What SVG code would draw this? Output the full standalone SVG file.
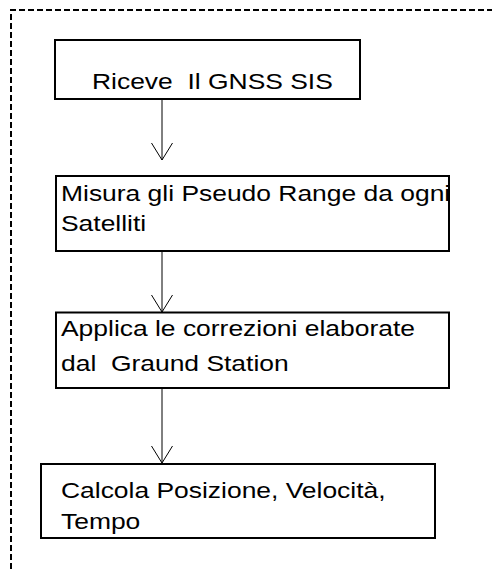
<svg xmlns="http://www.w3.org/2000/svg" width="492" height="569" viewBox="0 0 492 569">
  <style>
    .box { fill: #ffffff; stroke: #000000; stroke-width: 2; }
    .lbl { font-family: "Liberation Sans", Arial, sans-serif; font-size: 21.5px; fill: #000000; white-space: pre; }
    .edge { fill: none; stroke: #000000; stroke-width: 1; }
    .frame { fill: none; stroke: #000000; stroke-width: 2; stroke-dasharray: 6 3; }
  </style>
  <defs>
    <marker id="open-arrow" markerUnits="userSpaceOnUse" markerWidth="20" markerHeight="24" refX="0" refY="0" orient="auto" overflow="visible">
      <path d="M -17,-10.5 L 0,0 L -17,10.5" fill="none" stroke="#000000" stroke-width="1"/>
    </marker>
  </defs>

  <rect width="492" height="569" fill="#ffffff"/>

  <!-- dashed enclosing frame (open to the right and bottom) -->
  <path class="frame" d="M 11,569 L 11,10 L 492,10"/>

  <!-- connectors -->
  <g id="connectors">
    <line class="edge" x1="162" y1="99" x2="162" y2="160" marker-end="url(#open-arrow)"/>
    <line class="edge" x1="162" y1="251" x2="162" y2="312" marker-end="url(#open-arrow)"/>
    <line class="edge" x1="162" y1="388" x2="162" y2="463" marker-end="url(#open-arrow)"/>
  </g>

  <g id="node-riceve">
    <rect class="box" x="55" y="40" width="305" height="59"/>
    <text class="lbl" xml:space="preserve" transform="translate(92,89) scale(1.23,1)">Riceve  Il GNSS SIS</text>
  </g>

  <g id="node-misura">
    <rect class="box" x="56" y="176" width="393" height="75"/>
    <text class="lbl" xml:space="preserve" transform="translate(61,201) scale(1.23,1)">Misura gli Pseudo Range da ogni</text>
    <text class="lbl" xml:space="preserve" transform="translate(61,231) scale(1.23,1)">Satelliti</text>
  </g>

  <g id="node-applica">
    <rect class="box" x="56" y="312.5" width="393" height="75.5"/>
    <text class="lbl" xml:space="preserve" transform="translate(61,336) scale(1.23,1)">Applica le correzioni elaborate</text>
    <text class="lbl" xml:space="preserve" transform="translate(61,371) scale(1.23,1)">dal  Graund Station</text>
  </g>

  <g id="node-calcola">
    <rect class="box" x="41" y="464" width="394" height="74"/>
    <text class="lbl" xml:space="preserve" transform="translate(61,498) scale(1.23,1)">Calcola Posizione, Velocità,</text>
    <text class="lbl" xml:space="preserve" transform="translate(61,529) scale(1.23,1)">Tempo</text>
  </g>
</svg>
